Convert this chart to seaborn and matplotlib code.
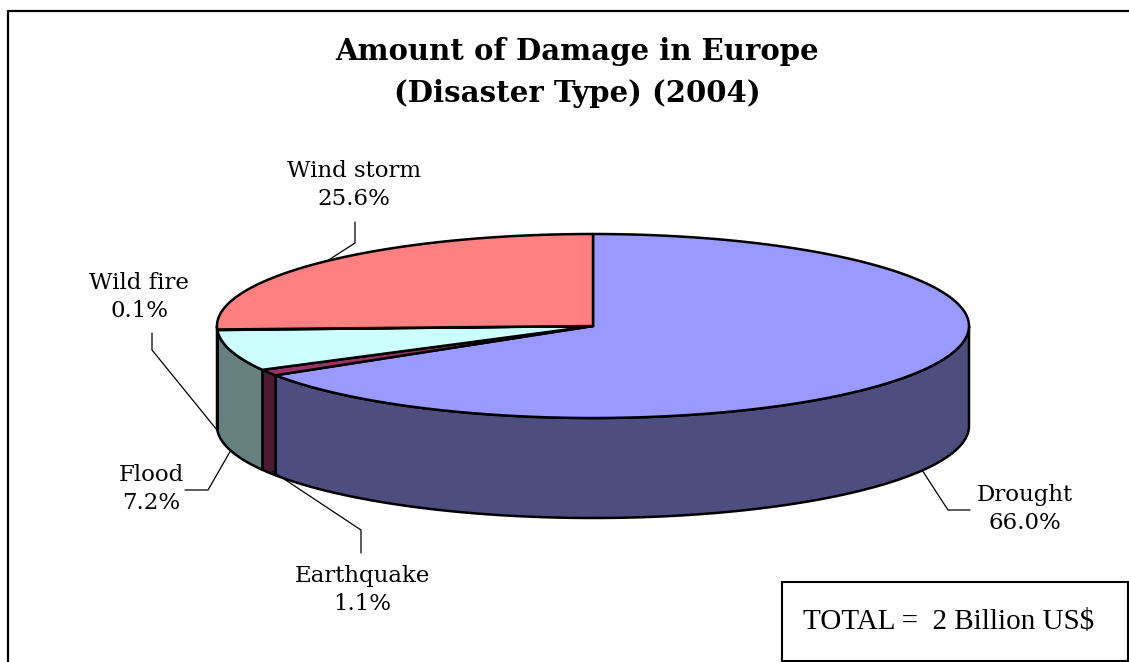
import numpy as np
import matplotlib
matplotlib.use("Agg")
import matplotlib.pyplot as plt
from matplotlib.patches import Polygon, Rectangle
import seaborn as sns

# Damage share by disaster type, Europe 2004 (percent of total)
categories = ["Drought", "Earthquake", "Flood", "Wild fire", "Wind storm"]
shares = [66.0, 1.1, 7.2, 0.1, 25.6]
top_colors = ["#9999FF", "#993366", "#CCFFFF", "#660066", "#FF8080"]
title_lines = ["Amount of Damage in Europe", "(Disaster Type) (2004)"]
total_note = "TOTAL =  2 Billion US$"

sns.set_theme(style="white")
plt.rcParams["font.family"] = ["DejaVu Serif", "DejaVu Sans"]
plt.rcParams["text.color"] = "black"

W, H = 1129, 662
fig = plt.figure(figsize=(W / 100, H / 100), dpi=100)
ax = fig.add_axes([0, 0, 1, 1])
ax.set_xlim(0, W)
ax.set_ylim(H, 0)
ax.axis("off")

# 3-D pie geometry (pixel space, y downward)
cx, cy, rx, ry, depth = 593, 326, 376, 92, 100


def arc(t1, t2, n=200, dy=0.0):
    t = np.radians(np.linspace(t1, t2, n))
    return np.column_stack([cx + rx * np.cos(t), cy - ry * np.sin(t) + dy])


def darker(c, f=0.5):
    r, g, b = matplotlib.colors.to_rgb(c)
    return (r * f, g * f, b * f)


# slice angles: start at 12 o'clock, go clockwise
cum = np.concatenate([[0], np.cumsum(shares)])
total = cum[-1]
spans = [(90 - cum[i + 1] / total * 360, 90 - cum[i] / total * 360)
         for i in range(len(shares))]

edge_kw = dict(edgecolor="black", linewidth=1.8, joinstyle="round")

# front side walls
for (t1, t2), col in zip(spans, top_colors):
    for k in (-360, 0, 360):
        a, b = max(t1, -180 + k), min(t2, 0 + k)
        if b > a:
            top = arc(a, b)
            bot = arc(b, a, dy=depth)
            ax.add_patch(Polygon(np.vstack([top, bot]), closed=True,
                                 facecolor=darker(col), **edge_kw))

# top faces
for (t1, t2), col in zip(spans, top_colors):
    pts = np.vstack([[cx, cy], arc(t1, t2), [cx, cy]])
    ax.add_patch(Polygon(pts, closed=True, facecolor=col, **edge_kw))

# title
ax.text(577, 52, title_lines[0], ha="center", va="center",
        fontsize=21, fontweight="bold")
ax.text(577, 93, title_lines[1], ha="center", va="center",
        fontsize=21, fontweight="bold")

# labels with leader lines
label_pos = {
    "Drought": (1025, 509),
    "Earthquake": (362, 590),
    "Flood": (151, 489),
    "Wild fire": (139, 297),
    "Wind storm": (354, 185),
}
leaders = {
    "Drought": [(970, 510), (948, 510), (922, 470)],
    "Earthquake": [(361, 553), (361, 530), (272, 471)],
    "Flood": [(185, 490), (208, 490), (231, 450)],
    "Wild fire": [(152, 333), (152, 350), (217, 430)],
    "Wind storm": [(355, 222), (355, 243), (327, 261)],
}
for name, share in zip(categories, shares):
    x, y = label_pos[name]
    ax.text(x, y, f"{name}\n{share:.1f}%", ha="center", va="center",
            fontsize=16.5, linespacing=1.3)
    xs, ys = zip(*leaders[name])
    ax.plot(xs, ys, color="black", linewidth=0.9)

# total box
ax.add_patch(Rectangle((782, 582), 346, 79, facecolor="white",
                       edgecolor="black", linewidth=1.5))
ax.text(803, 622, total_note, ha="left", va="center",
        fontsize=21, family="Liberation Serif")

# outer frame (top and left edges)
ax.plot([8, 8, W + 5], [H + 5, 11, 11], color="black", linewidth=1.6)

fig.savefig("out.png", dpi=100)
